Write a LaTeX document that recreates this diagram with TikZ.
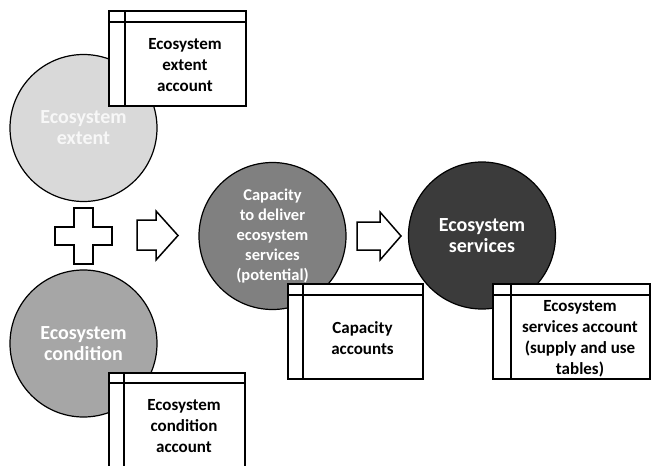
\documentclass[tikz,border=0pt]{standalone}
\usepackage{fontspec}
\setmainfont{Carlito}
\begin{document}
\begin{tikzpicture}[x=1pt,y=-1pt,
  stock/.style={circle,draw=black,line width=1.2pt,minimum size=147pt,inner sep=0pt,
    font=\bfseries\fontsize{20}{21}\selectfont,text=white,align=center},
  acct/.style={draw=black,fill=white,line width=1.5pt,rectangle,inner sep=0pt},
  accttext/.style={font=\bfseries\fontsize{17}{21}\selectfont,align=center,text=black},
  block/.style={draw=black,fill=white,line width=1.5pt,line join=miter}]
\useasboundingbox (0,0) rectangle (651,466);
\begin{scope}
\clip (0,0) rectangle (651,466);

% ecosystem stocks and flows
\node[stock,fill=black!15,text=black!3] (ext) at (83.5,128) {Ecosystem\\extent};
\node[stock,fill=black!35] (cond) at (83.5,343.5) {Ecosystem\\condition};
\node[stock,fill=black!50,font=\bfseries\fontsize{16.5}{20}\selectfont] (cap) at (272.5,236)
  {Capacity\\to deliver\\ecosystem\\services\\(potential)};
\node[stock,fill=black!77] (serv) at (482,235.5) {Ecosystem\\services};

% combine sign and flow arrows
\draw[block] (74,208) -- (93,208) -- (93,227) -- (112,227) -- (112,245) -- (93,245)
  -- (93,264) -- (74,264) -- (74,245) -- (55,245) -- (55,227) -- (74,227) -- cycle;
\draw[block] (137,220) -- (156,220) -- (156,211) -- (178,235.5) -- (156,260)
  -- (156,250) -- (137,250) -- cycle;
\draw[block] (357,222) -- (380,222) -- (380,212) -- (401,236) -- (380,260)
  -- (380,250) -- (357,250) -- cycle;

% account tables
\node[acct,minimum width=137pt,minimum height=95pt,anchor=north west] (a1) at (108,10) {};
\draw[line width=1.5pt] ([yshift=-12pt]a1.north west) -- ([yshift=-12pt]a1.north east);
\draw[line width=1.5pt] ([xshift=17pt]a1.north west) -- ([xshift=17pt]a1.south west);
\node[accttext] (a1t) at (185,65) {Ecosystem\\extent\\account};

\node[acct,minimum width=136pt,minimum height=110pt,anchor=north west] (a2) at (108,372) {};
\draw[line width=1.5pt] ([yshift=-11pt]a2.north west) -- ([yshift=-11pt]a2.north east);
\draw[line width=1.5pt] ([xshift=16pt]a2.north west) -- ([xshift=16pt]a2.south west);
\node[accttext] (a2t) at (184,426.5) {Ecosystem\\condition\\account};

\node[acct,minimum width=135pt,minimum height=95pt,anchor=north west] (a3) at (287,283) {};
\draw[line width=1.5pt] ([yshift=-12pt]a3.north west) -- ([yshift=-12pt]a3.north east);
\draw[line width=1.5pt] ([xshift=16pt]a3.north west) -- ([xshift=16pt]a3.south west);
\node[accttext] (a3t) at (362.5,338.5) {Capacity\\accounts};

\node[acct,minimum width=157pt,minimum height=95pt,anchor=north west] (a4) at (492,283) {};
\draw[line width=1.5pt] ([yshift=-12pt]a4.north west) -- ([yshift=-12pt]a4.north east);
\draw[line width=1.5pt] ([xshift=19pt]a4.north west) -- ([xshift=19pt]a4.south west);
\node[accttext] (a4t) at (580,338.5) {Ecosystem\\services account\\(supply and use\\tables)};
\end{scope}
\end{tikzpicture}
\end{document}
